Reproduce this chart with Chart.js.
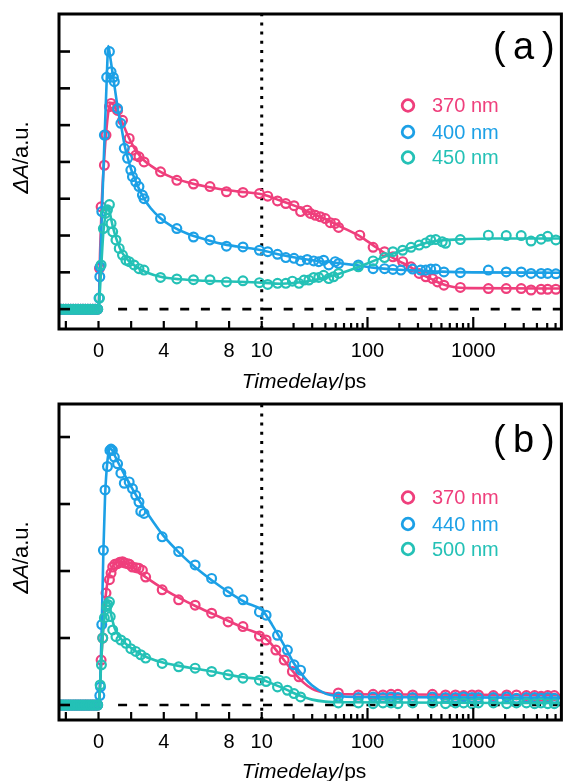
<!DOCTYPE html>
<html>
<head>
<meta charset="utf-8">
<script src="https://cdn.jsdelivr.net/npm/chart.js@4"></script>
<style>
  body { margin: 0; background: #fff; }
  .panel { position: absolute; left: 0; width: 568px; }
</style>
</head>
<body>
<div class="panel" style="top:0;height:390px"><canvas id="chartA" width="568" height="390"></canvas></div>
<div class="panel" style="top:390px;height:391px"><canvas id="chartB" width="568" height="391"></canvas></div>
<script>
// broken time axis: linear up to 10 ps, log10 after that
const LIN_END = 10;
const DECADE = 6.48;           // width of one decade, in linear-ps units
const X_MIN = -2.42;
const X_MAX = 28.36;
function mapTime(t) {
  return t <= LIN_END ? t : LIN_END + DECADE * Math.log10(t / LIN_END);
}

const xTickTimes = [-2, 0, 2, 4, 6, 8, 10,
  20, 30, 40, 50, 60, 70, 80, 90, 100,
  200, 300, 400, 500, 600, 700, 800, 900, 1000,
  2000, 3000, 4000, 5000, 6000];
const xTickLabels = ['', '0', '', '4', '', '8', '10',
  '', '', '', '', '', '', '', '', '100',
  '', '', '', '', '', '', '', '', '1000',
  '', '', '', '', ''];

const PINK = '#ef3f7c';
const BLUE = '#1ca0e6';
const TEAL = '#24c1b6';

// delays before time zero (shared by every trace)
const preTime = [-2.3, -2.15, -2.0, -1.85, -1.7, -1.55, -1.4, -1.25, -1.1, -0.95, -0.8, -0.65, -0.5, -0.35, -0.2, -0.05];
const preZero = [0, 0, 0, 0, 0, 0, 0, 0, 0, 0, 0, 0, 0, 0, 0, 0];

// ---- panel (a) ----
const a370T = [0.06, 0.16, 0.36, 0.46, 0.67, 0.77, 0.97, 1.17, 1.47, 1.88, 2.08, 2.28, 2.48, 2.79, 3.8, 4.8, 5.82, 6.83, 7.84, 8.85, 9.86, 11.4, 14.1, 16.9, 20.2, 23.3, 26.9, 28.9, 32.2, 35.8, 39.9, 44.5, 49.5, 53.3, 84.6, 113, 145, 174, 215, 258, 308, 356, 412, 459, 528, 755, 1390, 2050, 2840, 3520, 4380, 5050, 6040];
const a370V = [1.11, 2.78, 3.91, 4.73, 5.5, 5.59, 5.5, 5.4, 5.13, 4.64, 4.32, 4.18, 4.14, 4.0, 3.73, 3.5, 3.4, 3.33, 3.19, 3.17, 3.14, 3.07, 2.94, 2.87, 2.81, 2.65, 2.69, 2.6, 2.55, 2.51, 2.46, 2.35, 2.33, 2.22, 2.01, 1.68, 1.56, 1.42, 1.29, 1.15, 0.97, 0.88, 0.83, 0.74, 0.65, 0.59, 0.56, 0.56, 0.56, 0.52, 0.54, 0.54, 0.54];
const a400T = [0.03, 0.08, 0.1, 0.2, 0.36, 0.5, 0.67, 0.77, 0.91, 0.97, 1.17, 1.37, 1.58, 1.78, 1.98, 2.08, 2.28, 2.48, 2.69, 2.79, 3.8, 4.8, 5.82, 6.83, 7.84, 8.85, 9.86, 11.4, 14.1, 16.9, 20.2, 23.3, 26.9, 31, 34.6, 38.5, 43, 49.5, 53.3, 82, 113, 145, 174, 207, 267, 318, 356, 396, 442, 528, 755, 1390, 2050, 2840, 3520, 4380, 5050, 6040];
const a400V = [0.3, 0.88, 1.15, 2.65, 4.73, 6.3, 7.0, 6.45, 6.3, 6.18, 5.45, 5.05, 4.37, 4.1, 3.78, 3.6, 3.46, 3.33, 3.1, 3.0, 2.46, 2.19, 1.96, 1.88, 1.71, 1.69, 1.6, 1.56, 1.49, 1.4, 1.38, 1.31, 1.35, 1.31, 1.29, 1.33, 1.2, 1.29, 1.24, 1.2, 1.1, 1.1, 1.08, 1.06, 1.09, 1.06, 1.06, 1.09, 1.09, 1.01, 0.99, 1.06, 1.01, 1.01, 0.97, 0.97, 0.97, 0.96];
const a450T = [0.06, 0.16, 0.3, 0.42, 0.55, 0.67, 0.77, 0.87, 1.07, 1.27, 1.47, 1.68, 1.88, 2.18, 2.48, 2.79, 3.8, 4.8, 5.82, 6.83, 7.84, 8.85, 9.86, 11.4, 14.1, 16.9, 19.5, 22.5, 25.1, 27.9, 31, 34.6, 38.5, 43, 47.8, 53.3, 82, 113, 145, 174, 215, 258, 308, 356, 396, 442, 509, 547, 755, 1390, 2050, 2840, 3520, 4380, 5050, 6040];
const a450V = [0.3, 1.2, 2.19, 2.6, 2.7, 2.84, 2.33, 2.1, 1.88, 1.65, 1.47, 1.33, 1.29, 1.2, 1.1, 1.06, 0.86, 0.82, 0.8, 0.8, 0.74, 0.77, 0.72, 0.67, 0.7, 0.7, 0.76, 0.7, 0.79, 0.79, 0.86, 0.86, 0.92, 0.83, 0.88, 0.97, 1.15, 1.31, 1.4, 1.56, 1.6, 1.68, 1.74, 1.8, 1.88, 1.89, 1.83, 1.79, 1.89, 2.01, 2.0, 2.0, 1.85, 1.9, 1.98, 1.88];

const fitA370T = [-2.42, 0, 0.1, 0.2, 0.35, 0.5, 0.65, 0.8, 1.0, 1.2, 1.5, 1.8, 2.1, 2.4, 2.8, 3.2, 3.8, 4.5, 5.5, 6.5, 7.5, 8.5, 10, 15, 20, 30, 40, 55, 85, 115, 150, 200, 260, 320, 400, 500, 650, 900, 7000];
const fitA370V = [0, 0, 1.6, 2.9, 4.1, 4.95, 5.5, 5.6, 5.5, 5.32, 5.03, 4.72, 4.45, 4.24, 4.04, 3.9, 3.73, 3.58, 3.44, 3.34, 3.26, 3.2, 3.12, 2.95, 2.82, 2.6, 2.45, 2.25, 1.98, 1.72, 1.5, 1.3, 1.13, 0.96, 0.82, 0.69, 0.6, 0.57, 0.56];
const fitA400T = [-2.42, 0, 0.1, 0.2, 0.35, 0.5, 0.6, 0.7, 0.85, 1.0, 1.2, 1.4, 1.6, 1.8, 2.0, 2.4, 2.8, 3.2, 3.8, 4.5, 5.5, 6.5, 7.5, 8.5, 10, 15, 20, 30, 50, 80, 120, 200, 300, 500, 1000, 7000];
const fitA400V = [0, 0, 1.2, 2.5, 4.4, 6.2, 7.15, 6.9, 6.45, 6.0, 5.4, 4.95, 4.45, 4.1, 3.8, 3.35, 3.0, 2.74, 2.47, 2.25, 2.04, 1.9, 1.78, 1.7, 1.6, 1.48, 1.41, 1.33, 1.26, 1.19, 1.12, 1.07, 1.05, 1.02, 1.0, 0.99];
const fitA450T = [-2.42, 0, 0.1, 0.2, 0.3, 0.45, 0.6, 0.75, 0.9, 1.1, 1.3, 1.5, 1.8, 2.1, 2.5, 3.0, 3.8, 5, 6.5, 8, 10, 15, 20, 30, 40, 55, 80, 110, 150, 200, 300, 400, 550, 800, 1500, 7000];
const fitA450V = [0, 0, 0.6, 1.4, 2.1, 2.6, 2.8, 2.5, 2.2, 1.9, 1.67, 1.5, 1.33, 1.22, 1.1, 0.99, 0.88, 0.81, 0.77, 0.75, 0.72, 0.69, 0.71, 0.78, 0.86, 0.97, 1.13, 1.29, 1.44, 1.57, 1.73, 1.83, 1.88, 1.9, 1.92, 1.92];

// ---- panel (b) ----
const b370T = [0.16, 0.26, 0.46, 0.67, 0.77, 0.87, 1.0, 1.17, 1.3, 1.47, 1.6, 1.78, 1.9, 2.08, 2.3, 2.48, 2.69, 2.89, 3.9, 4.91, 5.92, 6.93, 7.94, 8.85, 9.86, 11, 13.6, 16.3, 19.5, 22.5, 53, 82, 113, 140, 167, 194, 267, 411, 547, 679, 811, 972, 1120, 1550, 2070, 2560, 3180, 3800, 4380, 5060, 5840];
const b370V = [0.67, 1.0, 1.67, 1.87, 1.97, 2.06, 2.1, 2.11, 2.13, 2.14, 2.12, 2.11, 2.1, 2.06, 2.05, 2.04, 2.01, 1.91, 1.72, 1.57, 1.49, 1.37, 1.24, 1.17, 1.03, 0.97, 0.82, 0.67, 0.5, 0.42, 0.18, 0.15, 0.16, 0.15, 0.16, 0.16, 0.15, 0.16, 0.15, 0.15, 0.14, 0.15, 0.15, 0.14, 0.15, 0.15, 0.14, 0.14, 0.13, 0.14, 0.14];
const b440T = [0.08, 0.12, 0.2, 0.3, 0.4, 0.55, 0.7, 0.77, 0.85, 0.97, 1.17, 1.37, 1.58, 1.88, 2.08, 2.28, 2.48, 2.59, 2.79, 3.9, 4.91, 5.92, 6.93, 7.94, 8.85, 9.86, 11, 14.1, 17.5, 20.2, 23.3, 53, 82, 113, 140, 167, 194, 267, 411, 547, 679, 811, 972, 1120, 1550, 2070, 2560, 3180, 3800, 4380, 5060, 5840];
const b440V = [0.14, 0.27, 1.2, 2.31, 3.21, 3.56, 3.8, 3.82, 3.8, 3.7, 3.6, 3.46, 3.31, 3.33, 3.23, 3.13, 3.03, 2.89, 2.86, 2.51, 2.29, 2.09, 1.89, 1.69, 1.57, 1.39, 1.34, 1.04, 0.82, 0.6, 0.52, 0.12, 0.11, 0.12, 0.11, 0.12, 0.11, 0.11, 0.12, 0.11, 0.11, 0.12, 0.11, 0.11, 0.11, 0.12, 0.1, 0.11, 0.11, 0.1, 0.11, 0.1];
const b500T = [0.1, 0.18, 0.26, 0.36, 0.5, 0.57, 0.67, 0.72, 0.87, 1.07, 1.37, 1.68, 1.98, 2.28, 2.59, 2.89, 3.9, 4.91, 5.92, 6.93, 7.94, 8.85, 9.86, 11, 14.1, 17.5, 20.2, 23.3, 53, 82, 113, 140, 167, 194, 267, 411, 547, 679, 811, 972, 1120, 1550, 2070, 2560, 3180, 3800, 4380, 5060, 5840];
const b500V = [0.3, 0.6, 1.0, 1.3, 1.47, 1.5, 1.54, 1.32, 1.12, 1.02, 0.97, 0.92, 0.84, 0.8, 0.75, 0.7, 0.62, 0.57, 0.55, 0.5, 0.45, 0.4, 0.37, 0.35, 0.27, 0.22, 0.17, 0.12, 0.03, 0.03, 0.02, 0.03, 0.03, 0.02, 0.03, 0.03, 0.02, 0.03, 0.03, 0.02, 0.03, 0.03, 0.02, 0.03, 0.03, 0.02, 0.03, 0.02, 0.02];

const fitB370T = [-2.42, 0, 0.1, 0.2, 0.3, 0.45, 0.6, 0.8, 1.0, 1.3, 1.6, 2.0, 2.5, 3, 4, 5, 6, 7, 8, 9, 10, 12, 14, 17, 20, 25, 30, 40, 55, 7000];
const fitB370V = [0, 0, 0.35, 0.8, 1.2, 1.65, 1.9, 2.04, 2.11, 2.14, 2.13, 2.07, 1.98, 1.89, 1.73, 1.59, 1.47, 1.36, 1.25, 1.14, 1.04, 0.93, 0.8, 0.63, 0.49, 0.33, 0.24, 0.18, 0.16, 0.15];
const fitB440T = [-2.42, 0, 0.1, 0.2, 0.3, 0.4, 0.55, 0.7, 0.85, 1.0, 1.5, 2, 2.5, 3, 4, 5, 6, 7, 8, 9, 10, 11, 12.5, 15, 17.5, 20, 25, 30, 40, 55, 80, 7000];
const fitB440V = [0, 0, 0.3, 1.2, 2.3, 3.1, 3.65, 3.83, 3.8, 3.72, 3.48, 3.26, 3.05, 2.86, 2.52, 2.26, 2.04, 1.85, 1.68, 1.53, 1.42, 1.34, 1.2, 0.99, 0.8, 0.63, 0.42, 0.29, 0.17, 0.13, 0.12, 0.11];
const fitB500T = [-2.42, 0, 0.1, 0.2, 0.35, 0.5, 0.62, 0.8, 1.0, 1.3, 1.6, 2, 2.5, 3, 4, 5, 6, 7, 8, 9, 10, 12, 15, 20, 25, 30, 40, 60, 7000];
const fitB500V = [0, 0, 0.3, 0.8, 1.3, 1.52, 1.55, 1.32, 1.14, 1.01, 0.93, 0.85, 0.77, 0.71, 0.63, 0.58, 0.54, 0.5, 0.45, 0.41, 0.38, 0.33, 0.27, 0.18, 0.12, 0.08, 0.05, 0.04, 0.03];

const FONT = '"Liberation Sans", Arial, sans-serif';
Chart.defaults.font.family = FONT;

function toXY(ts, vs) {
  return ts.map((t, i) => ({ x: mapTime(t), y: vs[i] }));
}

// frame, inward ticks, axis titles, panel letter and legend
const axisDecor = {
  id: 'axisDecor',
  afterDraw(chart, args, opts) {
    const { ctx, chartArea: a, scales: { x, y } } = chart;
    ctx.save();
    ctx.strokeStyle = '#000';
    ctx.lineWidth = 2.2;
    xTickTimes.forEach(t => {
      const px = x.getPixelForValue(mapTime(t));
      const len = t <= LIN_END ? 8 : (t === 100 || t === 1000 ? 12 : 6);
      ctx.beginPath();
      ctx.moveTo(px, a.bottom);
      ctx.lineTo(px, a.bottom - len);
      ctx.stroke();
    });
    ctx.lineWidth = 2.6;
    opts.yTicks.forEach(v => {
      const py = y.getPixelForValue(v);
      ctx.beginPath();
      ctx.moveTo(a.left, py);
      ctx.lineTo(a.left + 11, py);
      ctx.stroke();
    });
    ctx.lineWidth = 3;
    ctx.strokeRect(a.left, a.top, a.right - a.left, a.bottom - a.top);

    ctx.fillStyle = '#000';
    ctx.textBaseline = 'alphabetic';

    // x title: italic quantity, upright unit
    ctx.font = 'italic 21px ' + FONT;
    const q = 'Timedelay';
    const qw = ctx.measureText(q).width;
    ctx.font = '21px ' + FONT;
    const uw = ctx.measureText('/ps').width;
    let sx = opts.xTitleX - (qw + uw) / 2;
    ctx.font = 'italic 21px ' + FONT;
    ctx.fillText(q, sx, opts.xTitleY);
    ctx.font = '21px ' + FONT;
    ctx.fillText('/ps', sx + qw, opts.xTitleY);

    // y title, rotated
    ctx.save();
    ctx.translate(opts.yTitleX, opts.yTitleY);
    ctx.rotate(-Math.PI / 2);
    ctx.font = 'italic 22px ' + FONT;
    const yq = ctx.measureText('ΔA').width;
    ctx.font = '22px ' + FONT;
    const yu = ctx.measureText('/a.u.').width;
    ctx.font = 'italic 22px ' + FONT;
    ctx.fillText('ΔA', -(yq + yu) / 2, 0);
    ctx.font = '22px ' + FONT;
    ctx.fillText('/a.u.', -(yq + yu) / 2 + yq, 0);
    ctx.restore();

    // panel letter
    ctx.font = '38px ' + FONT;
    ctx.fillText('(', 493, opts.letterY);
    ctx.fillText(opts.letter, 513, opts.letterY);
    ctx.fillText(')', 542, opts.letterY);

    // legend from the point datasets
    ctx.font = '20px ' + FONT;
    ctx.textBaseline = 'middle';
    chart.data.datasets.filter(d => d.inLegend).forEach((d, i) => {
      const ly = opts.legendY[i];
      ctx.strokeStyle = d.pointBorderColor;
      ctx.lineWidth = 2.8;
      ctx.beginPath();
      ctx.arc(408, ly, 5.8, 0, Math.PI * 2);
      ctx.stroke();
      ctx.fillStyle = d.pointBorderColor;
      ctx.fillText(d.label, 432, ly + 1);
    });
    ctx.restore();
  }
};

function buildPanel(canvasId, series, yMin, yMax, decor) {
  const datasets = [];
  series.forEach(s => {
    datasets.push({
      label: s.label,
      inLegend: true,
      data: toXY(preTime.concat(s.t), preZero.concat(s.v)),
      showLine: false,
      pointRadius: 4.4,
      pointHoverRadius: 4.4,
      pointBorderWidth: 2.2,
      pointBorderColor: s.color,
      pointBackgroundColor: 'rgba(0,0,0,0)',
      order: s.order
    });
    datasets.push({
      label: s.label + ' fit',
      data: toXY(s.fitT, s.fitV),
      borderColor: s.color,
      borderWidth: 2.6,
      pointRadius: 0,
      cubicInterpolationMode: 'monotone',
      fill: false,
      order: s.order
    });
  });
  // zero level and the axis break at 10 ps
  datasets.push({
    data: [{ x: mapTime(1.2), y: 0 }, { x: X_MAX, y: 0 }],
    borderColor: '#000', borderWidth: 2.6, borderDash: [9, 11.7],
    pointRadius: 0, order: 10
  });
  datasets.push({
    data: [{ x: mapTime(LIN_END), y: yMin }, { x: mapTime(LIN_END), y: yMax }],
    borderColor: '#000', borderWidth: 3, borderDash: [3, 6.2],
    pointRadius: 0, order: 10
  });

  return new Chart(document.getElementById(canvasId), {
    type: 'line',
    data: { datasets },
    options: {
      responsive: false,
      animation: false,
      events: [],
      layout: { padding: { top: 14, right: 1, left: 0, bottom: 0 } },
      plugins: {
        legend: { display: false },
        tooltip: { enabled: false },
        axisDecor: decor
      },
      scales: {
        x: {
          type: 'linear',
          min: X_MIN,
          max: X_MAX,
          afterBuildTicks: s => { s.ticks = xTickTimes.map(t => ({ value: mapTime(t) })); },
          afterFit: s => { s.height = decor.xAxisHeight; },
          ticks: {
            autoSkip: false,
            maxRotation: 0,
            padding: 10,
            color: '#000',
            font: { size: 20 },
            callback: (v, i) => xTickLabels[i]
          },
          grid: { display: false, drawTicks: false },
          border: { display: false }
        },
        y: {
          min: yMin,
          max: yMax,
          afterFit: s => { s.width = 59; },
          ticks: { display: false },
          grid: { display: false, drawTicks: false },
          border: { display: false }
        }
      }
    },
    plugins: [axisDecor]
  });
}

buildPanel('chartA', [
  { label: '370 nm', color: PINK, t: a370T, v: a370V, fitT: fitA370T, fitV: fitA370V, order: 3 },
  { label: '400 nm', color: BLUE, t: a400T, v: a400V, fitT: fitA400T, fitV: fitA400V, order: 2 },
  { label: '450 nm', color: TEAL, t: a450T, v: a450V, fitT: fitA450T, fitV: fitA450V, order: 1 }
], -0.54, 8.02, {
  yTicks: [0, 1, 2, 3, 4, 5, 6, 7],
  xAxisHeight: 61,
  xTitleX: 304, xTitleY: 388,
  yTitleX: 28, yTitleY: 157.5,
  letter: 'a', letterY: 59,
  legendY: [105.5, 132, 157.5]
});

buildPanel('chartB', [
  { label: '370 nm', color: PINK, t: b370T, v: b370V, fitT: fitB370T, fitV: fitB370V, order: 3 },
  { label: '440 nm', color: BLUE, t: b440T, v: b440V, fitT: fitB440T, fitV: fitB440V, order: 2 },
  { label: '500 nm', color: TEAL, t: b500T, v: b500V, fitT: fitB500T, fitV: fitB500V, order: 1 }
], -0.224, 4.493, {
  yTicks: [0, 1, 2, 3, 4],
  xAxisHeight: 61,
  xTitleX: 304, xTitleY: 388,
  yTitleX: 28, yTitleY: 167.5,
  letter: 'b', letterY: 62,
  legendY: [107.5, 134, 159]
});
</script>
</body>
</html>
